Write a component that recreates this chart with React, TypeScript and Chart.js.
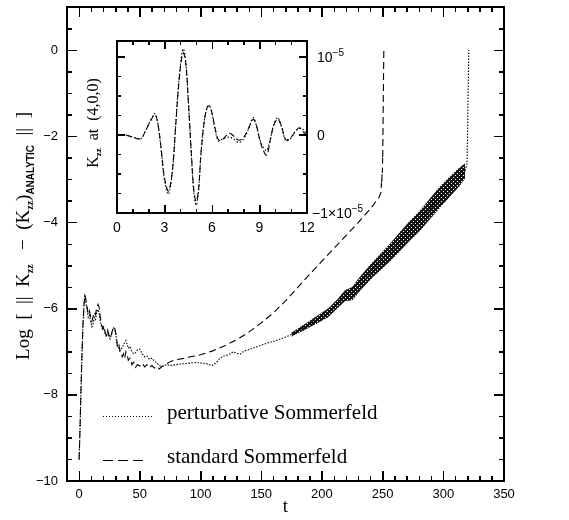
import React, { useEffect, useRef } from "react";
import { Chart, registerables } from "chart.js";

Chart.register(...registerables);

// ---------------- main panel data ----------------
const stdT = [0, 0.8, 1.6, 2.4, 3.2, 4.0, 4.7, 5.5, 6.5, 7.5, 8.5, 9.5, 10.5, 11.5, 12.5, 13.5, 14.5, 15.5, 16.5, 17.5, 18.5, 19.5, 20.5, 21.5, 22.5, 23.5, 24.5, 25.5, 26.5, 27.5, 28.5, 29.5, 30.5, 31.5, 32.5, 33.5, 34.5, 35.5, 36.5, 37.5, 38.5, 39.5, 40.5, 42, 43.5, 45, 46.5, 48, 50, 52, 54, 56, 58, 60, 62, 64, 66, 68, 70, 72, 75, 78, 81, 85, 90, 95, 100, 110, 120, 130, 140, 150, 160, 170, 182, 190, 200, 210, 220, 230, 240, 247, 248.5, 249, 249.3, 249.6, 249.8, 250, 250.1, 250.2, 250.6, 251];
const stdY = [-9.5, -8.7, -7.8, -7.0, -6.35, -5.9, -5.68, -5.78, -5.95, -6.12, -6.05, -6.22, -6.3, -6.18, -6.08, -6.14, -5.98, -5.9, -5.97, -6.22, -6.38, -6.46, -6.4, -6.56, -6.62, -6.5, -6.6, -6.68, -6.6, -6.5, -6.42, -6.47, -6.62, -6.86, -6.8, -6.96, -7.02, -7.12, -7.05, -7.16, -7.0, -7.05, -7.2, -7.15, -7.3, -7.24, -7.36, -7.3, -7.33, -7.27, -7.35, -7.3, -7.37, -7.32, -7.38, -7.34, -7.4, -7.35, -7.32, -7.28, -7.23, -7.2, -7.18, -7.16, -7.13, -7.1, -7.07, -6.98, -6.86, -6.72, -6.54, -6.33, -6.1, -5.82, -5.45, -5.2, -4.9, -4.6, -4.3, -4.0, -3.68, -3.42, -3.32, -3.1, -3.15, -2.8, -2.85, -2.5, -2.55, -2.2, -1.0, 0];

const pertT = [0, 0.8, 1.6, 2.4, 3.2, 4.0, 4.7, 5.5, 6.5, 7.5, 8.5, 9.5, 10.5, 11.5, 12.5, 13.5, 14.5, 15.5, 16.5, 17.5, 18.5, 19.5, 20.5, 21.5, 22.5, 23.5, 24.5, 25.5, 26.5, 27.5, 28.5, 29.5, 30.5, 31.5, 32.5, 33.5, 34.5, 35.5, 36.5, 37.5, 38.5, 39.5, 40.5, 42, 43.5, 45, 46.5, 48, 50, 52, 54, 56, 58, 60, 62, 64, 66, 68, 70, 72, 76, 80, 85, 90, 95, 100, 105, 110, 113, 116, 119, 122, 125, 127, 130, 133, 136, 139, 142, 145, 150, 155, 160, 165, 170, 175, 180, 185, 190, 195, 200, 205, 209, 213, 217, 220, 223, 227, 231, 236, 242, 248, 256, 264, 272, 281, 289, 297, 305, 313, 318, 319.5, 320, 320.3, 320.7, 321];
const pertY = [-9.5, -8.7, -7.8, -7.0, -6.35, -5.92, -5.72, -5.85, -6.02, -6.2, -6.15, -6.3, -6.42, -6.35, -6.2, -6.25, -6.08, -6.02, -6.1, -6.3, -6.42, -6.5, -6.45, -6.6, -6.65, -6.55, -6.64, -6.7, -6.62, -6.52, -6.45, -6.5, -6.65, -6.88, -6.9, -6.98, -6.95, -6.9, -6.85, -6.78, -6.74, -6.82, -6.92, -6.88, -7.0, -7.05, -7.02, -6.96, -6.94, -7.05, -7.12, -7.1, -7.18, -7.15, -7.22, -7.26, -7.32, -7.35, -7.32, -7.3, -7.32, -7.3, -7.28, -7.27, -7.25, -7.26, -7.28, -7.32, -7.25, -7.15, -7.1, -7.08, -7.04, -7.0, -7.04, -7.05, -6.98, -6.96, -6.93, -6.9, -6.85, -6.8, -6.76, -6.71, -6.66, -6.6, -6.52, -6.44, -6.36, -6.27, -6.18, -6.1, -5.98, -5.85, -5.68, -5.66, -5.64, -5.5, -5.37, -5.25, -5.08, -4.92, -4.7, -4.45, -4.2, -3.95, -3.68, -3.42, -3.18, -2.95, -2.8, -2.65, -2.0, -1.15, -0.6, 0];

// noisy band of the perturbative run (upper / lower envelope)
const bandT = [175, 185, 195, 205, 213, 219, 225, 232, 242, 248, 256, 264, 272, 281, 289, 297, 305, 313, 318];
const bandUpper = [-6.56, -6.38, -6.19, -6.0, -5.78, -5.58, -5.5, -5.24, -4.92, -4.74, -4.5, -4.24, -3.98, -3.72, -3.45, -3.18, -2.95, -2.74, -2.63];
const bandLower = [-6.64, -6.5, -6.35, -6.2, -5.98, -5.82, -5.8, -5.56, -5.26, -5.11, -4.9, -4.67, -4.43, -4.18, -3.92, -3.66, -3.41, -3.16, -2.97];

const xTicks = [0, 50, 100, 150, 200, 250, 300, 350];
const yTicks = [-10, -8, -6, -4, -2, 0];
const legendLabels = ["perturbative Sommerfeld", "standard Sommerfeld"];

// ---------------- inset data (units of 1e-5) ----------------
const insetT = [0, 0.5, 1.0, 1.5, 1.8, 2.1, 2.4, 2.6, 2.8, 3.0, 3.25, 3.5, 3.7, 3.9, 4.1, 4.2, 4.35, 4.5, 4.7, 4.85, 5.0, 5.15, 5.3, 5.5, 5.7, 5.85, 6.0, 6.2, 6.4, 6.6, 6.85, 7.1, 7.4, 7.7, 8.0, 8.3, 8.6, 8.8, 9.0, 9.2, 9.45, 9.7, 9.9, 10.15, 10.4, 10.65, 10.9, 11.2, 11.5, 11.75, 12];
const insetStd = [0, 0, -0.03, -0.05, 0.05, 0.17, 0.26, 0.12, -0.2, -0.55, -0.72, -0.45, 0.1, 0.65, 1.0, 1.05, 0.9, 0.45, -0.25, -0.7, -0.85, -0.7, -0.25, 0.15, 0.35, 0.37, 0.28, 0.08, -0.06, -0.07, -0.02, 0.02, -0.02, -0.07, -0.03, 0.08, 0.2, 0.12, -0.05, -0.18, -0.26, -0.05, 0.12, 0.2, 0.1, -0.06, -0.05, 0.02, 0.09, 0.04, -0.02];
const insetPert = [0, 0, -0.03, -0.05, 0.05, 0.18, 0.27, 0.12, -0.22, -0.58, -0.76, -0.47, 0.1, 0.68, 1.05, 1.1, 0.93, 0.45, -0.27, -0.74, -0.9, -0.72, -0.25, 0.16, 0.36, 0.37, 0.27, 0.06, -0.08, -0.06, -0.04, -0.03, -0.06, -0.1, -0.05, 0.07, 0.22, 0.12, -0.04, -0.15, -0.2, -0.04, 0.13, 0.22, 0.1, -0.07, -0.06, 0.03, 0.08, 0.07, 0.0];
const insetXTicks = [0, 3, 6, 9, 12];
const insetYTicks = [-1, 0, 1];

const SERIF = "'Liberation Serif', 'Times New Roman', serif";
const SANS = "'Liberation Sans', Arial, sans-serif";

function steps(from: number, to: number, step: number) {
  const out: number[] = [];
  const n = Math.round((to - from) / step);
  for (let i = 0; i <= n; i++) out.push(+(from + i * step).toFixed(6));
  return out;
}

type Part = { t: string; f: string; dy?: number };

function richWidth(ctx: CanvasRenderingContext2D, parts: Part[]) {
  let w = 0;
  for (const p of parts) {
    ctx.font = p.f;
    w += ctx.measureText(p.t).width;
  }
  return w;
}
function drawRich(ctx: CanvasRenderingContext2D, parts: Part[], x: number, y: number) {
  let cx = x;
  for (const p of parts) {
    ctx.font = p.f;
    ctx.fillText(p.t, cx, y + (p.dy || 0));
    cx += ctx.measureText(p.t).width;
  }
}

const fmt = (v: number) => (v < 0 ? "\u2212" + Math.abs(v) : String(v));

type TickSpec = { xMinor: number[]; xMajor: number[]; yMinor: number[]; yMajor: number[]; majorLen: number; minorLen: number };

// frame and inward tick marks, placed through the chart's own scales
function drawFrameAndTicks(chart: any, s: TickSpec) {
  const ctx: CanvasRenderingContext2D = chart.ctx;
  const a = chart.chartArea;
  const xs = chart.scales.x;
  const ys = chart.scales.y;
  ctx.save();
  ctx.setLineDash([]);
  ctx.globalAlpha = 1;
  ctx.globalCompositeOperation = "source-over";
  ctx.fillStyle = "#000";
  const xTick = (v: number, len: number) => {
    const px = Math.round(xs.getPixelForValue(v));
    ctx.fillRect(px, a.bottom - len, 1, len);
    ctx.fillRect(px, a.top, 1, len);
  };
  const yTick = (v: number, len: number) => {
    const py = Math.round(ys.getPixelForValue(v));
    ctx.fillRect(a.left, py, len, 1);
    ctx.fillRect(a.right - len, py, len, 1);
  };
  s.xMinor.forEach((v) => xTick(v, s.minorLen));
  s.xMajor.forEach((v) => xTick(v, s.majorLen));
  s.yMinor.forEach((v) => yTick(v, s.minorLen));
  s.yMajor.forEach((v) => yTick(v, s.majorLen));
  ctx.fillRect(a.left - 1, a.top - 1, a.right - a.left + 2, 2);
  ctx.fillRect(a.left - 1, a.bottom - 1, a.right - a.left + 2, 2);
  ctx.fillRect(a.left - 1, a.top - 1, 2, a.bottom - a.top + 2);
  ctx.fillRect(a.right - 1, a.top - 1, 2, a.bottom - a.top + 2);
  ctx.restore();
}

type AxisOpt = {
  pos: "top" | "bottom" | "left" | "right";
  min: number;
  max: number;
  ticks: number[];
  len: number;
  border: boolean;
  weight: number;
  size?: number;
  labels?: any;
  title?: any;
};

function axis(o: AxisOpt): any {
  const horiz = o.pos === "top" || o.pos === "bottom";
  return {
    type: "linear",
    axis: horiz ? "x" : "y",
    position: o.pos,
    min: o.min,
    max: o.max,
    weight: o.weight,
    afterBuildTicks: (s: any) => {
      s.ticks = o.ticks.map((v) => ({ value: v }));
    },
    afterFit: (s: any) => {
      if (horiz) s.height = o.size || 0;
      else s.width = o.size || 0;
      s.paddingLeft = 0;
      s.paddingRight = 0;
      s.paddingTop = 0;
      s.paddingBottom = 0;
    },
    grid: {
      display: true,
      drawOnChartArea: false,
      drawTicks: true,
      tickLength: -o.len,
      tickColor: "#000",
      tickWidth: 1,
      color: "#000",
      lineWidth: 1,
    },
    border: { display: o.border, width: 2, color: "#000" },
    ticks: o.labels ? o.labels : { display: false },
    title: o.title ? o.title : { display: false },
  };
}

const mainTickSpec: TickSpec = {
  xMinor: steps(-10, 350, 10),
  xMajor: xTicks,
  yMinor: steps(-10, 1, 0.5),
  yMajor: yTicks,
  majorLen: 10,
  minorLen: 5,
};

const insetTickSpec: TickSpec = {
  xMinor: steps(0, 12, 1),
  xMajor: insetXTicks,
  yMinor: steps(-1, 1, 0.25),
  yMajor: insetYTicks,
  majorLen: 8,
  minorLen: 4,
};

const mainDecor = {
  id: "mainDecor",
  afterDraw(chart: any) {
    drawFrameAndTicks(chart, mainTickSpec);
    const ctx: CanvasRenderingContext2D = chart.ctx;
    ctx.save();
    ctx.fillStyle = "#000";
    ctx.textBaseline = "alphabetic";
    ctx.textAlign = "left";
    const big = `19px ${SERIF}`;
    const sub = `bold 10px ${SERIF}`;
    const parts: Part[] = [
      { t: "Log  [  ||  K", f: big },
      { t: "zz", f: sub, dy: 4 },
      { t: "   \u2212  (K", f: big },
      { t: "zz", f: sub, dy: 4 },
      { t: ")", f: big },
      { t: "ANALYTIC", f: `bold 10px ${SANS}`, dy: 5 },
      { t: "  ||  ]", f: big },
    ];
    const w = richWidth(ctx, parts);
    ctx.translate(29, 236);
    ctx.rotate(-Math.PI / 2);
    drawRich(ctx, parts, -w / 2, 0);
    ctx.restore();

    ctx.save();
    ctx.strokeStyle = "#000";
    ctx.lineWidth = 1;
    ctx.setLineDash([1, 2]);
    ctx.beginPath();
    ctx.moveTo(103, 416.5);
    ctx.lineTo(153, 416.5);
    ctx.stroke();
    ctx.setLineDash([10, 5]);
    ctx.beginPath();
    ctx.moveTo(103, 460.5);
    ctx.lineTo(148, 460.5);
    ctx.stroke();
    ctx.setLineDash([]);
    ctx.fillStyle = "#000";
    ctx.font = `21px ${SERIF}`;
    ctx.textBaseline = "alphabetic";
    ctx.fillText(legendLabels[0], 167, 419);
    ctx.fillText(legendLabels[1], 167, 463);
    ctx.restore();
  },
};

// overlay chart with the same scales: only the frame and tick marks
const frameDecor = {
  id: "frameDecor",
  afterDraw(chart: any) {
    drawFrameAndTicks(chart, mainTickSpec);
  },
};

const insetDecor = {
  id: "insetDecor",
  afterDraw(chart: any) {
    drawFrameAndTicks(chart, insetTickSpec);
    const ctx: CanvasRenderingContext2D = chart.ctx;
    const a = chart.chartArea;
    const xs = chart.scales.x;
    const ys = chart.scales.y;
    ctx.save();
    ctx.fillStyle = "#000";
    ctx.font = `14px ${SANS}`;
    ctx.textAlign = "center";
    ctx.textBaseline = "middle";
    for (const v of insetXTicks) ctx.fillText(String(v), xs.getPixelForValue(v), a.bottom + 15);
    ctx.textAlign = "left";
    ctx.textBaseline = "alphabetic";
    const f = `14px ${SANS}`;
    const sup = `10px ${SANS}`;
    drawRich(ctx, [{ t: "10", f }, { t: "\u22125", f: sup, dy: -6 }], a.right + 10, ys.getPixelForValue(insetYTicks[2]) + 5);
    drawRich(ctx, [{ t: "0", f }], a.right + 10, ys.getPixelForValue(insetYTicks[1]) + 5);
    drawRich(ctx, [{ t: "\u22121\u00d710", f }, { t: "\u22125", f: sup, dy: -6 }], a.right + 5, ys.getPixelForValue(insetYTicks[0]) + 5);
    const lab: Part[] = [
      { t: "K", f: `16px ${SERIF}` },
      { t: "zz", f: `bold 9px ${SERIF}`, dy: 3 },
      { t: "  at  (4,0,0)", f: `16px ${SERIF}` },
    ];
    const w = richWidth(ctx, lab);
    ctx.translate(a.left - 19, (a.top + a.bottom) / 2 - 4);
    ctx.rotate(-Math.PI / 2);
    drawRich(ctx, lab, -w / 2, 0);
    ctx.restore();
  },
};

function toXY(xs: number[], ys: number[]) {
  return xs.map((x, i) => ({ x, y: ys[i] }));
}

function makeHatch(): CanvasPattern | string {
  const c = document.createElement("canvas");
  c.width = 4;
  c.height = 4;
  const g = c.getContext("2d");
  if (!g) return "rgba(0,0,0,0.8)";
  g.fillStyle = "rgba(0,0,0,0.92)";
  g.fillRect(0, 0, 4, 4);
  g.clearRect(1, 1, 1, 1);
  g.clearRect(3, 3, 1, 1);
  const p = g.createPattern(c, "repeat");
  return p || "rgba(0,0,0,0.8)";
}

export default function App() {
  const mainRef = useRef<HTMLCanvasElement>(null);
  const frameRef = useRef<HTMLCanvasElement>(null);
  const insetRef = useRef<HTMLCanvasElement>(null);

  useEffect(() => {
    const hatch = makeHatch();
    const tickFont = { family: SANS, size: 13 };

    const main = new Chart(mainRef.current as HTMLCanvasElement, {
      type: "line",
      data: {
        datasets: [
          {
            label: legendLabels[1],
            data: toXY(stdT, stdY),
            borderColor: "#000",
            borderWidth: 1.1,
            borderDash: [7, 4],
            pointRadius: 0,
            fill: false,
            tension: 0,
          },
          {
            label: legendLabels[0],
            data: toXY(pertT, pertY),
            borderColor: "#000",
            borderWidth: 1.1,
            borderDash: [1.5, 1.5],
            pointRadius: 0,
            fill: false,
            tension: 0,
          },
          {
            label: "band-lower",
            data: toXY(bandT, bandLower),
            borderColor: "#000",
            borderWidth: 0.8,
            borderDash: [1, 1.5],
            pointRadius: 0,
            fill: false,
            tension: 0,
          },
          {
            label: "band-upper",
            data: toXY(bandT, bandUpper),
            borderColor: "#000",
            borderWidth: 0.8,
            borderDash: [1, 1.5],
            pointRadius: 0,
            fill: "-1",
            backgroundColor: hatch as any,
            tension: 0,
          },
        ],
      },
      options: {
        animation: false,
        responsive: true,
        maintainAspectRatio: false,
        layout: { padding: { top: 7, right: 65, left: 0, bottom: 0 } },
        plugins: { legend: { display: false }, tooltip: { enabled: false } },
        scales: {
          x: axis({
            pos: "bottom", min: -10, max: 350, ticks: xTicks, len: 10, border: true, weight: 0, size: 39,
            labels: { display: true, color: "#000", font: tickFont, padding: 16, maxRotation: 0, autoSkip: false, callback: (v: any) => fmt(Number(v)) },
            title: { display: true, text: "t", color: "#000", font: { family: SERIF, size: 19 }, padding: { top: 0, bottom: 2 } },
          }),
          xMinorB: axis({ pos: "bottom", min: -10, max: 350, ticks: mainTickSpec.xMinor, len: 5, border: false, weight: -1 }),
          xTop: axis({ pos: "top", min: -10, max: 350, ticks: xTicks, len: 10, border: true, weight: 0 }),
          xMinorT: axis({ pos: "top", min: -10, max: 350, ticks: mainTickSpec.xMinor, len: 5, border: false, weight: -1 }),
          y: axis({
            pos: "left", min: -10, max: 1, ticks: yTicks, len: 10, border: true, weight: 0, size: 67,
            labels: { display: true, color: "#000", font: tickFont, padding: 19, autoSkip: false, callback: (v: any) => fmt(Number(v)) },
          }),
          yMinorL: axis({ pos: "left", min: -10, max: 1, ticks: mainTickSpec.yMinor, len: 5, border: false, weight: -1 }),
          yRight: axis({ pos: "right", min: -10, max: 1, ticks: yTicks, len: 10, border: true, weight: 0 }),
          yMinorR: axis({ pos: "right", min: -10, max: 1, ticks: mainTickSpec.yMinor, len: 5, border: false, weight: -1 }),
        },
      },
      plugins: [mainDecor],
    });

    const frame = new Chart(frameRef.current as HTMLCanvasElement, {
      type: "line",
      data: { datasets: [] },
      options: {
        animation: false,
        responsive: true,
        maintainAspectRatio: false,
        events: [],
        layout: { padding: { top: 7, right: 65, left: 0, bottom: 0 } },
        plugins: { legend: { display: false }, tooltip: { enabled: false } },
        scales: {
          x: {
            type: "linear",
            position: "bottom",
            min: -10,
            max: 350,
            afterFit: (s: any) => {
              s.height = 39;
              s.paddingLeft = 0;
              s.paddingRight = 0;
            },
            grid: { display: false, drawTicks: false },
            border: { display: false },
            ticks: { display: false },
          },
          y: {
            type: "linear",
            position: "left",
            min: -10,
            max: 1,
            afterFit: (s: any) => {
              s.width = 67;
              s.paddingTop = 0;
              s.paddingBottom = 0;
            },
            grid: { display: false, drawTicks: false },
            border: { display: false },
            ticks: { display: false },
          },
        },
      },
      plugins: [frameDecor],
    });

    const inset = new Chart(insetRef.current as HTMLCanvasElement, {
      type: "line",
      data: {
        datasets: [
          {
            label: "standard",
            data: toXY(insetT, insetStd),
            borderColor: "#000",
            borderWidth: 1.1,
            borderDash: [6, 3],
            pointRadius: 0,
            fill: false,
            tension: 0.35,
          },
          {
            label: "perturbative",
            data: toXY(insetT, insetPert),
            borderColor: "#000",
            borderWidth: 1.1,
            borderDash: [1.5, 2],
            pointRadius: 0,
            fill: false,
            tension: 0.35,
          },
        ],
      },
      options: {
        animation: false,
        responsive: true,
        maintainAspectRatio: false,
        layout: { padding: { top: 8, right: 70, left: 30, bottom: 25 } },
        plugins: { legend: { display: false }, tooltip: { enabled: false } },
        scales: {
          x: axis({ pos: "bottom", min: 0, max: 12, ticks: insetXTicks, len: 8, border: true, weight: 0 }),
          xMinorB: axis({ pos: "bottom", min: 0, max: 12, ticks: insetTickSpec.xMinor, len: 4, border: false, weight: -1 }),
          xTop: axis({ pos: "top", min: 0, max: 12, ticks: insetXTicks, len: 8, border: true, weight: 0 }),
          xMinorT: axis({ pos: "top", min: 0, max: 12, ticks: insetTickSpec.xMinor, len: 4, border: false, weight: -1 }),
          y: axis({ pos: "left", min: -1, max: 1.2, ticks: insetYTicks, len: 8, border: true, weight: 0 }),
          yMinorL: axis({ pos: "left", min: -1, max: 1.2, ticks: insetTickSpec.yMinor, len: 4, border: false, weight: -1 }),
          yRight: axis({ pos: "right", min: -1, max: 1.2, ticks: insetYTicks, len: 8, border: true, weight: 0 }),
          yMinorR: axis({ pos: "right", min: -1, max: 1.2, ticks: insetTickSpec.yMinor, len: 4, border: false, weight: -1 }),
        },
      },
      plugins: [insetDecor],
    });

    return () => {
      main.destroy();
      frame.destroy();
      inset.destroy();
    };
  }, []);

  return (
    <div style={{ position: "absolute", left: 0, top: 0, width: 569, height: 520, background: "#fff" }}>
      <div style={{ position: "absolute", left: 0, top: 0, width: 569, height: 520 }}>
        <canvas ref={mainRef} />
      </div>
      <div style={{ position: "absolute", left: 0, top: 0, width: 569, height: 520, pointerEvents: "none" }}>
        <canvas ref={frameRef} />
      </div>
      <div style={{ position: "absolute", left: 87, top: 33, width: 290, height: 205 }}>
        <canvas ref={insetRef} />
      </div>
    </div>
  );
}
